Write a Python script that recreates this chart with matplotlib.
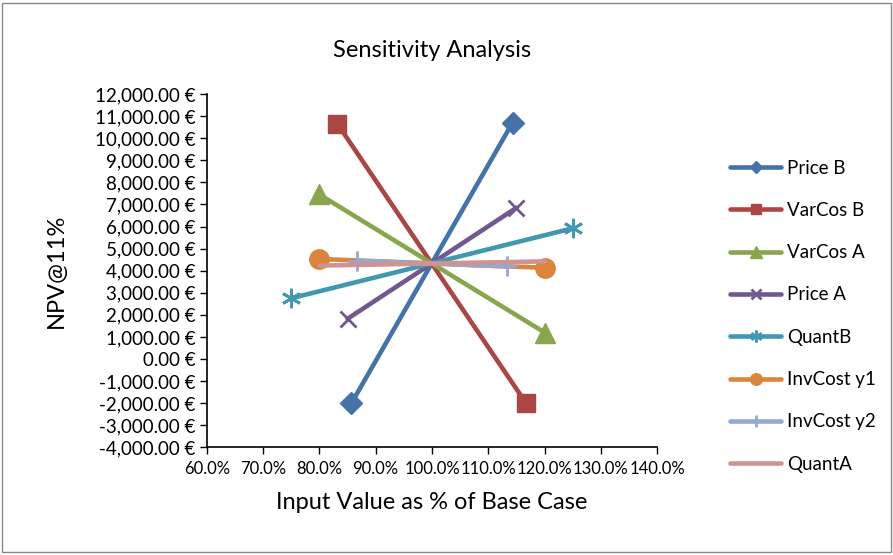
import matplotlib.pyplot as plt
from matplotlib.ticker import FuncFormatter
from matplotlib.patches import Rectangle

plt.rcParams['font.family'] = ['Lato', 'DejaVu Sans']

names = ['Price B', 'VarCos B', 'VarCos A', 'Price A', 'QuantB', 'InvCost y1', 'InvCost y2', 'QuantA']
x_vals = [[0.857, 1.143], [0.832, 1.167], [0.80, 1.20], [0.85, 1.15],
          [0.75, 1.25], [0.80, 1.20], [0.867, 1.133], [0.80, 1.20]]
npv = [[-2000, 10700], [10650, -2000], [7450, 1200], [1820, 6850],
       [2750, 5920], [4530, 4130], [4450, 4190], [4230, 4420]]

colors = ['#4572A7', '#AA4643', '#89A54E', '#71588F', '#4198AF', '#DB843D', '#93A9CF', '#D19392']
markers = ['D', 's', '^', 'x', (6, 2, 0), 'o', '+', None]
msizes = [11, 13, 14, 12, 14, 14, 14, 0]

fig = plt.figure(figsize=(8.93, 5.55), dpi=100)
ax = fig.add_axes([0.2315, 0.194, 0.5045, 0.6366])

for i in range(len(names)):
    ax.plot(x_vals[i], npv[i], color=colors[i], lw=3.3, marker=markers[i],
            markersize=msizes[i], markeredgewidth=2 if markers[i] in ['x', '+', (6, 2, 0)] else 1,
            label=names[i], solid_capstyle='round')

ax.set_xlim(0.6, 1.4)
ax.set_ylim(-4000, 12000)
ax.set_xticks([0.6 + 0.1 * k for k in range(9)])
ax.set_yticks(range(-4000, 12001, 1000))
ax.xaxis.set_major_formatter(FuncFormatter(lambda v, p: '%.1f%%' % (v * 100)))
ax.yaxis.set_major_formatter(FuncFormatter(lambda v, p: '{:,.2f} €'.format(v)))
for lab, t in zip(ax.get_yticklabels(), ax.get_yticks()):
    if t < 0:
        lab.set_color('#FF0000')

ax.tick_params(direction='out', length=5, width=1, labelsize=13.5, colors='black', pad=3)
ax.tick_params(axis='x', labelsize=12, pad=5)
for s in ['top', 'right']:
    ax.spines[s].set_visible(False)
ax.spines['left'].set_linewidth(1.2)
ax.spines['bottom'].set_linewidth(1.2)

ax.set_title('Sensitivity Analysis', fontsize=17, pad=27)
ax.set_xlabel('Input Value as % of Base Case', fontsize=17, labelpad=11)
ax.set_ylabel('NPV@11%', fontsize=17, labelpad=20)

fig.legend(loc='upper left', bbox_to_anchor=(0.799, 0.743), frameon=False, fontsize=13.5,
           markerscale=0.6, handlelength=2.7, labelspacing=1.35, handletextpad=0.3)

fig.patches.append(Rectangle((0.002, 0.005), 0.996, 0.99, transform=fig.transFigure,
                             fill=False, edgecolor='#888888', lw=1))

fig.savefig('out.png', dpi=100)
